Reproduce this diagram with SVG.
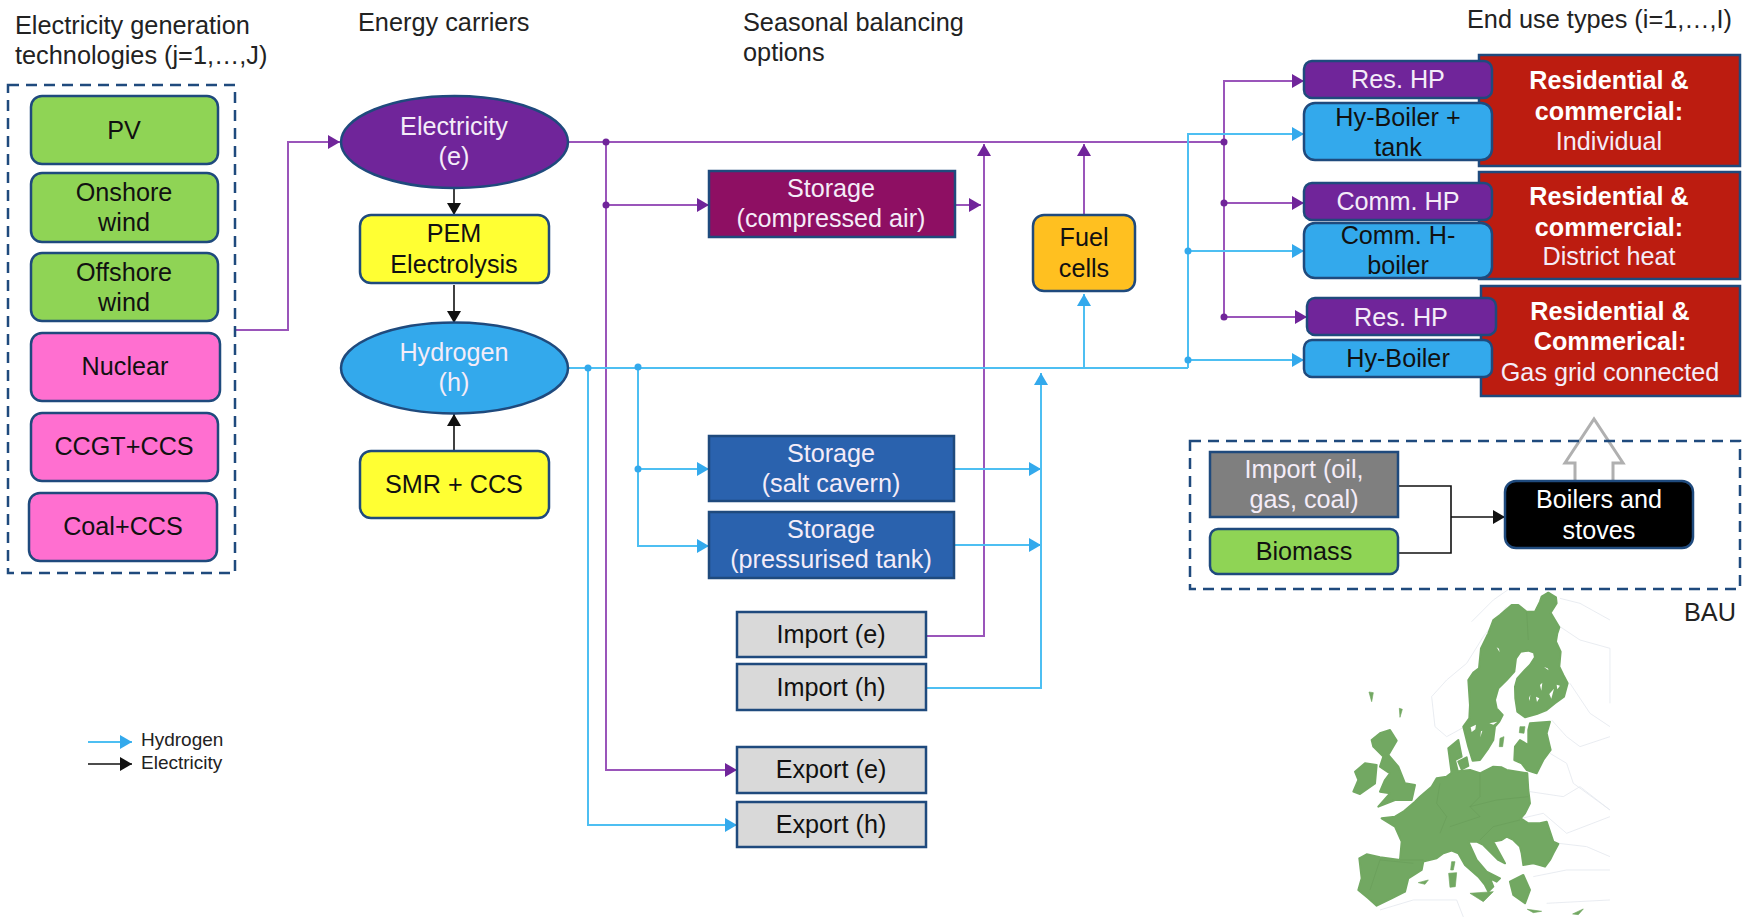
<svg xmlns="http://www.w3.org/2000/svg" width="1752" height="917" viewBox="0 0 1752 917">
<style>
text{font-family:"Liberation Sans",Arial,sans-serif;font-size:25.2px;text-anchor:middle;fill:#111}
.h{text-anchor:start;fill:#222;font-size:25.3px}
.l{font-size:19px}
.w{fill:#f4ecf8}
.b{font-weight:bold;fill:#fff}
.n{stroke:#1f4a7d;stroke-width:2.5;transform:translate(0,1px)}
.g{fill:#8fd455}.p{fill:#ff6fd0}.y{fill:#ffff33}.v{fill:#70259a}.c{fill:#33a9ec}.r{fill:#bc1c10}.s{fill:#2a62ae}.q{fill:#d9d9d9}
.d{fill:none;stroke:#1f4a7d;stroke-width:2.5;stroke-dasharray:11 7;transform:translate(0,1px)}
#connectors{transform:translate(0,1px)}
.e{fill:none;stroke:#9a55ba;stroke-width:2}
.f{fill:none;stroke:#4dbff2;stroke-width:2}
.k{fill:none;stroke:#111;stroke-width:1.6}
.de{fill:#70259a}.df{fill:#33a9ec}
.ea{marker-end:url(#ae)}.fa{marker-end:url(#af)}.ka{marker-end:url(#ak)}
</style>
<defs>
<marker id="ae" markerUnits="userSpaceOnUse" markerWidth="12" markerHeight="14" refX="12" refY="7" orient="auto"><path d="M0 0L12 7L0 14Z" fill="#70259a"/></marker>
<marker id="af" markerUnits="userSpaceOnUse" markerWidth="12" markerHeight="14" refX="12" refY="7" orient="auto"><path d="M0 0L12 7L0 14Z" fill="#33a9ec"/></marker>
<marker id="ak" markerUnits="userSpaceOnUse" markerWidth="12" markerHeight="14" refX="12" refY="7" orient="auto"><path d="M0 0L12 7L0 14Z" fill="#111"/></marker>
<filter id="bl" x="-5%" y="-5%" width="110%" height="110%"><feGaussianBlur stdDeviation="0.5"/></filter>
</defs>

<g id="titles">
<text class="h" x="15" y="34">Electricity generation</text>
<text class="h" x="15" y="64">technologies (j=1,…,J)</text>
<text class="h" x="358" y="31">Energy carriers</text>
<text class="h" x="743" y="31">Seasonal balancing</text>
<text class="h" x="743" y="61">options</text>
<text class="h" x="1467" y="28">End use types (i=1,…,I)</text>
<text class="h" x="1684" y="621">BAU</text>
</g>

<g id="map" transform="translate(1280 570) scale(.3333)">
<g fill="none" stroke="#e4e8ee" stroke-width="2.5">
<path d="M690 55L640 90L575 155M680 110L610 200L560 280L500 330L455 380L465 470L500 500L555 470"/>
<path d="M840 85L900 100L990 150M840 170L900 210L990 235V400M870 340L930 430L990 470M815 450L860 500L900 530L990 500M810 550L860 580L880 640L990 720M750 665L850 680L900 650L990 720M725 745L790 730L860 790L990 740M835 820L920 830L990 860M760 920L860 900L990 900M300 1020L400 990L530 990L550 1041M800 1000L990 990"/>
</g>
<g id="eu" fill="#72a862" stroke="#72a862" stroke-width="6" stroke-linejoin="round" filter="url(#bl)">
<path d="M805 68L828 82L830 100L812 128L825 150L838 172L832 190L828 215L842 245L838 290L850 315L863 340L852 380L825 400L800 420L770 432L735 442L712 425L706 385L705 350L712 325L735 300L750 285L765 262L762 248L745 242L722 245L708 265L703 305L680 330L655 355L645 390L650 415L668 435L658 455L645 470L640 510L625 535L600 570L578 572L565 530L550 470L568 445L570 405L565 330L580 308L597 295L603 235L625 190L640 150L660 135L695 105L715 105L740 125L765 125L780 95L785 80Z"/>
<path d="M750 460L810 455L800 490L812 540L790 570L770 610L740 600L725 580L703 570L705 530L720 510L745 525L745 480Z"/>
<path d="M505 535L535 510L545 560L525 570L535 610L515 610Z"/>
<path d="M535 575L560 562L565 588L545 598Z"/>
<path d="M300 490L330 480L350 512L325 555L355 590L375 640L405 645L395 690L345 690L295 710L330 670L300 665L315 630L330 610L300 590L310 560L280 530L275 510Z"/>
<path d="M255 580L290 585L285 640L240 672L220 665L235 630L225 605Z"/>
<path d="M455 650L470 625L500 620L520 605L570 600L600 610L640 590L665 592L680 600L742 610L745 660L750 700L735 730L722 745L745 760L780 760L800 755L815 800L820 815L835 822L820 850L810 870L795 890L760 880L730 885L725 850L720 830L700 810L680 800L665 810L640 815L675 880L655 870L610 825L590 815L565 815L590 870L620 905L660 925L650 935L630 925L640 950L625 965L615 945L595 920L555 885L535 850L515 842L490 850L470 865L430 875L425 900L385 925L375 965L335 985L290 1007L265 985L235 960L245 925L238 865L260 853L300 862L360 870L365 815L345 770L305 745L345 740L370 725L405 695L420 680Z"/>
<path d="M690 935L730 915L750 960L735 1000L700 975Z"/>
<path d="M515 875L525 875L520 900L512 900Z" stroke-width="2"/>
<path d="M506 910L530 908L526 950L510 952Z" stroke-width="2"/>
<path d="M570 970L640 965L610 995Z" stroke-width="2"/>
<path d="M742 1018L785 1024L760 1028Z" stroke-width="2"/>
<path d="M878 1032L910 1017L895 1034Z" stroke-width="2"/>
<path d="M267 366L280 368L275 395Z" stroke-width="2"/>
<path d="M358 415L367 418L360 442Z" stroke-width="2"/>
<path d="M415 938L445 930L435 943Z" stroke-width="2"/>
<path d="M660 505L672 500L668 530L658 530Z" stroke-width="2"/>
<path d="M720 470L735 470L732 490L718 488Z" stroke-width="2"/>
</g>
<g fill="#fff" filter="url(#bl)">
<path d="M572 472L588 464L586 478L575 486Z"/>
<path d="M603 484L607 482L601 502Z"/>
<path d="M628 460L652 455L640 464Z"/>
<path d="M780 345L787 338L784 362ZM808 372L822 356L814 386ZM768 380L778 385L771 396ZM830 344L840 347L832 358ZM747 385L751 375L749 393Z"/>
<path d="M650 232L657 236L659 247Z"/>
<path d="M792 291L803 295L806 301Z"/>
</g>
<g fill="none" stroke="#5f9350" stroke-width="2" opacity=".5">
<path d="M740 125L745 210M480 640L470 700L500 740L480 790M600 610L600 680L570 710L600 740L510 770M570 710L650 690L745 680M720 750L640 770L600 810M400 880L300 870L270 960M360 870L430 870"/>
</g>
</g>

<g id="connectors">
<path class="e ea" d="M235 329H288V141H340"/>
<path class="e" d="M568 141H1224V316"/>
<path class="e ea" d="M1224 141V80H1304"/>
<path class="e ea" d="M1224 202H1304"/>
<path class="e ea" d="M1224 316H1307"/>
<path class="e ea" d="M606 141V769H737"/>
<path class="e ea" d="M606 204H709"/>
<path class="e ea" d="M955 204H981"/>
<path class="e ea" d="M926 635H984V143"/>
<path class="e ea" d="M1084 215V143"/>
<path class="f" d="M568 367H1188"/>
<path class="f fa" d="M1188 367V133H1304"/>
<path class="f fa" d="M1188 250H1304"/>
<path class="f fa" d="M1188 359H1304"/>
<path class="f fa" d="M1084 367V293"/>
<path class="f fa" d="M638 366V545H709"/>
<path class="f fa" d="M638 468H709"/>
<path class="f fa" d="M588 367V824H737"/>
<path class="f fa" d="M954 468H1041"/>
<path class="f fa" d="M954 544H1041"/>
<path class="f fa" d="M926 687H1041V372"/>
<path class="k ka" d="M454 187V214"/>
<path class="k ka" d="M454 284V322"/>
<path class="k ka" d="M454 450V413"/>
<path class="k" d="M1398 485H1451V552H1398"/>
<path class="k ka" d="M1451 516H1505"/>
<path class="f fa" d="M88 741H132"/>
<path class="k ka" d="M88 763H132"/>
<path d="M1575 480V462H1565L1594 418L1623 462H1613V480" fill="#fff" stroke="#b0b0b0" stroke-width="3"/>
<circle class="de" cx="606" cy="141" r="3.5"/><circle class="de" cx="606" cy="204" r="3.5"/><circle class="de" cx="1224" cy="141" r="3.5"/><circle class="de" cx="1224" cy="202" r="3.5"/><circle class="de" cx="1224" cy="316" r="3.5"/>
<circle class="df" cx="588" cy="367" r="3.5"/><circle class="df" cx="638" cy="366" r="3.5"/><circle class="df" cx="638" cy="468" r="3.5"/><circle class="df" cx="1188" cy="250" r="3.5"/><circle class="df" cx="1188" cy="359" r="3.5"/>
</g>

<g id="groups">
<rect class="d" x="8" y="84" width="227" height="488"/>
<rect class="d" x="1190" y="440" width="550" height="148"/>
</g>

<g id="pv"><rect class="n g" x="31" y="95" width="187" height="68" rx="11"/><text x="124" y="139">PV</text></g>
<g id="onshore"><rect class="n g" x="31" y="172" width="187" height="69" rx="11"/><text x="124" y="201">Onshore</text><text x="124" y="231">wind</text></g>
<g id="offshore"><rect class="n g" x="31" y="252" width="187" height="68" rx="11"/><text x="124" y="281">Offshore</text><text x="124" y="311">wind</text></g>
<g id="nuclear"><rect class="n p" x="31" y="332" width="189" height="68" rx="11"/><text x="125" y="375">Nuclear</text></g>
<g id="ccgt"><rect class="n p" x="31" y="412" width="187" height="68" rx="11"/><text x="124" y="455">CCGT+CCS</text></g>
<g id="coal"><rect class="n p" x="29" y="492" width="188" height="68" rx="11"/><text x="123" y="535">Coal+CCS</text></g>

<g id="electricity"><ellipse class="n v" cx="454.500" cy="141" rx="113.500" ry="46"/><text class="w" x="454" y="135">Electricity</text><text class="w" x="454" y="165">(e)</text></g>
<g id="pem"><rect class="n y" x="360" y="214" width="189" height="68" rx="11"/><text x="454" y="242">PEM</text><text x="454" y="273">Electrolysis</text></g>
<g id="hydrogen"><ellipse class="n c" cx="454.500" cy="367" rx="113.500" ry="45.500"/><text class="w" x="454" y="361">Hydrogen</text><text class="w" x="454" y="391">(h)</text></g>
<g id="smr"><rect class="n y" x="360" y="450" width="189" height="67" rx="11"/><text x="454" y="493">SMR + CCS</text></g>

<g id="storage-air"><rect class="n" fill="#8e0f63" x="709" y="170" width="246" height="66"/><text class="w" x="831" y="197">Storage</text><text class="w" x="831" y="227">(compressed air)</text></g>
<g id="storage-salt"><rect class="n s" x="709" y="435" width="245" height="65"/><text class="w" x="831" y="462">Storage</text><text class="w" x="831" y="492">(salt cavern)</text></g>
<g id="storage-tank"><rect class="n s" x="709" y="511" width="245" height="66"/><text class="w" x="831" y="538">Storage</text><text class="w" x="831" y="568">(pressurised tank)</text></g>
<g id="import-e"><rect class="n q" x="737" y="611" width="189" height="45"/><text x="831" y="643">Import (e)</text></g>
<g id="import-h"><rect class="n q" x="737" y="663" width="189" height="46"/><text x="831" y="696">Import (h)</text></g>
<g id="export-e"><rect class="n q" x="737" y="746" width="189" height="46"/><text x="831" y="778">Export (e)</text></g>
<g id="export-h"><rect class="n q" x="737" y="801" width="189" height="45"/><text x="831" y="833">Export (h)</text></g>
<g id="fuel-cells"><rect class="n" fill="#ffc020" x="1033" y="214" width="102" height="76" rx="11"/><text x="1084" y="246">Fuel</text><text x="1084" y="277">cells</text></g>

<g id="red-1"><rect class="n r" x="1479" y="54" width="261" height="111"/><text class="b" x="1609" y="89">Residential &amp;</text><text class="b" x="1609" y="120">commercial:</text><text class="w" x="1609" y="150">Individual</text></g>
<g id="red-2"><rect class="n r" x="1479" y="171" width="261" height="107"/><text class="b" x="1609" y="205">Residential &amp;</text><text class="b" x="1609" y="236">commercial:</text><text class="w" x="1609" y="265">District heat</text></g>
<g id="red-3"><rect class="n r" x="1481" y="285" width="259" height="110"/><text class="b" x="1610" y="320">Residential &amp;</text><text class="b" x="1610" y="350">Commerical:</text><text class="w" x="1610" y="381">Gas grid connected</text></g>
<g id="res-hp-1"><rect class="n v" x="1304" y="60" width="188" height="37" rx="8"/><text class="w" x="1398" y="88">Res. HP</text></g>
<g id="hy-boiler-tank"><rect class="n c" x="1304" y="102" width="188" height="57" rx="11"/><text x="1398" y="126">Hy-Boiler +</text><text x="1398" y="156">tank</text></g>
<g id="comm-hp"><rect class="n v" x="1304" y="182" width="188" height="37" rx="8"/><text class="w" x="1398" y="210">Comm. HP</text></g>
<g id="comm-boiler"><rect class="n c" x="1304" y="222" width="188" height="55" rx="11"/><text x="1398" y="244">Comm. H-</text><text x="1398" y="274">boiler</text></g>
<g id="res-hp-2"><rect class="n v" x="1307" y="297" width="189" height="37" rx="8"/><text class="w" x="1401" y="326">Res. HP</text></g>
<g id="hy-boiler"><rect class="n c" x="1304" y="339" width="188" height="37" rx="8"/><text x="1398" y="367">Hy-Boiler</text></g>

<g id="import-fossil"><rect class="n" fill="#7f7f7f" x="1210" y="451" width="188" height="65"/><text class="w" x="1304" y="478">Import (oil,</text><text class="w" x="1304" y="508">gas, coal)</text></g>
<g id="biomass"><rect class="n g" x="1210" y="528" width="188" height="45" rx="8"/><text x="1304" y="560">Biomass</text></g>
<g id="boilers"><rect class="n" fill="#000" x="1505" y="480" width="188" height="67" rx="11"/><text style="fill:#fff" x="1599" y="508">Boilers and</text><text style="fill:#fff" x="1599" y="539">stoves</text></g>

<g id="legend"><text class="h l" x="141" y="746">Hydrogen</text><text class="h l" x="141" y="769">Electricity</text></g>
</svg>
